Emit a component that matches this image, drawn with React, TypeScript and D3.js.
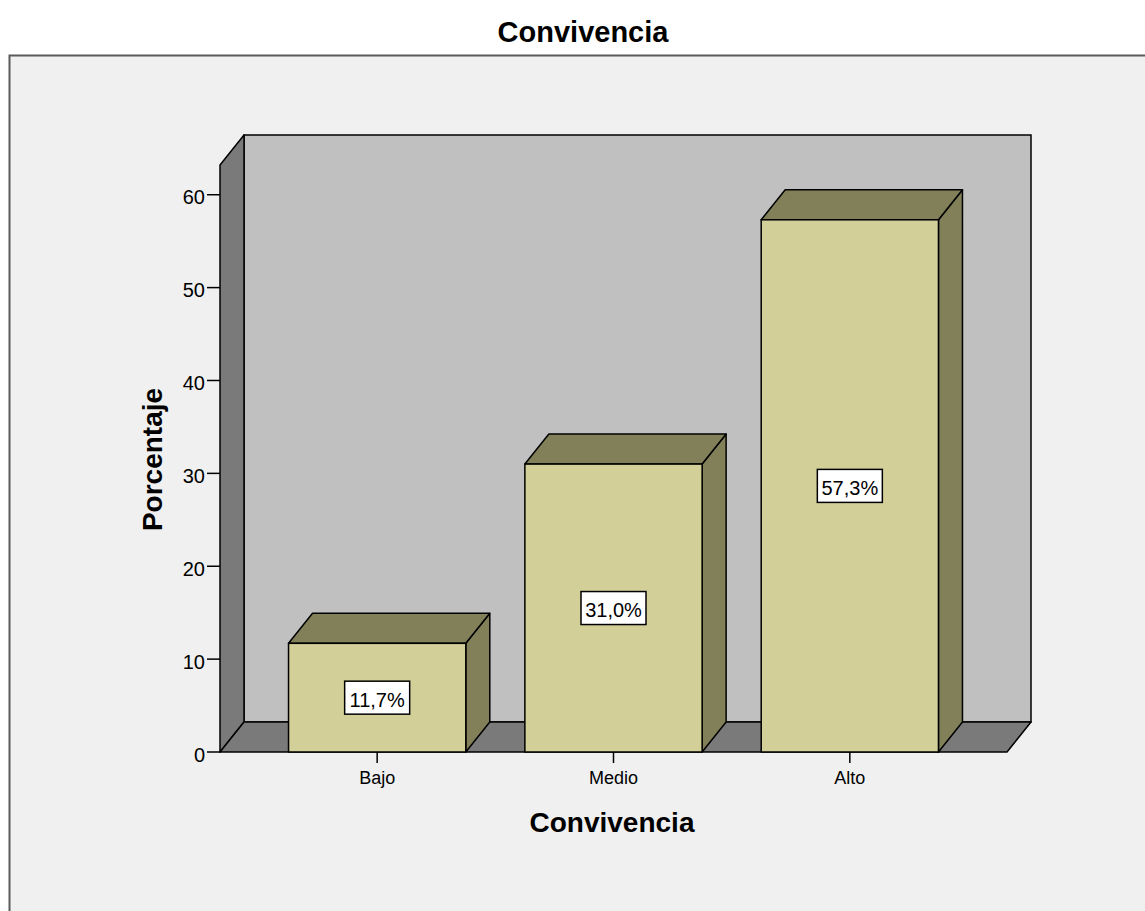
import { useEffect } from "react";
import * as d3 from "d3";

const categories = ["Bajo", "Medio", "Alto"];
const percents = [11.7, 31.0, 57.3];
const yTicks = [0, 10, 20, 30, 40, 50, 60];

const W = 1145;
const H = 911;
// plot frame (front plane)
const x0 = 220;
const x1 = 1007;
const yBottom = 752;
const yTop = 165;
const yDomainMax = 63.2;
// 3d depth offset
const DX = 24;
const DY = -30;

const FONT = "'Liberation Sans', Arial, sans-serif";

const pts = (p: [number, number][]) => p.map((d) => d.join(",")).join(" ");

export default function App() {
  useEffect(() => {
    document.body.style.margin = "0";
    document.body.style.background = "#ffffff";
  }, []);

  const x = d3.scaleBand<string>().domain(categories).range([x0, x1]).paddingInner(0.25).paddingOuter(0.29);
  const y = d3.scaleLinear().domain([0, yDomainMax]).range([yBottom, yTop]);
  const fmt = (v: number) => v.toFixed(1).replace(".", ",") + "%";

  return (
    <svg width={W} height={H} style={{ display: "block", fontFamily: FONT }}>
      <rect x={0} y={0} width={W} height={H} fill="#ffffff" />
      <text x={583} y={42} textAnchor="middle" fontSize={29} fontWeight="bold" fill="#000">
        Convivencia
      </text>
      {/* outer chart frame */}
      <rect x={9.5} y={55.5} width={W + 20} height={H} fill="#f0f0f0" stroke="#5a5a5a" strokeWidth={2} />

      {/* back wall */}
      <rect x={x0 + DX} y={yTop + DY} width={x1 - x0} height={yBottom - yTop} fill="#c0c0c0" stroke="#000" strokeWidth={1.5} />
      {/* left wall */}
      <polygon
        points={pts([[x0, yBottom], [x0, yTop], [x0 + DX, yTop + DY], [x0 + DX, yBottom + DY]])}
        fill="#7a7a7a"
        stroke="#000"
        strokeWidth={1.5}
        strokeLinejoin="round"
      />
      {/* floor */}
      <polygon
        points={pts([[x0, yBottom], [x1, yBottom], [x1 + DX, yBottom + DY], [x0 + DX, yBottom + DY]])}
        fill="#7a7a7a"
        stroke="#000"
        strokeWidth={1.5}
        strokeLinejoin="round"
      />

      {/* y axis ticks */}
      {yTicks.map((t) => (
        <g key={t}>
          <line x1={x0 - 13} x2={x0} y1={y(t)} y2={y(t)} stroke="#000" strokeWidth={1.5} />
          <text x={x0 - 15} y={y(t) + 9.5} textAnchor="end" fontSize={20} fill="#000">
            {t}
          </text>
        </g>
      ))}

      {/* bars */}
      {categories.map((c, i) => {
        const bx = x(c)!;
        const bw = x.bandwidth();
        const by = y(percents[i]);
        const cx = bx + bw / 2;
        const cy = (by + yBottom) / 2;
        return (
          <g key={c}>
            <polygon
              points={pts([[bx + bw, yBottom], [bx + bw, by], [bx + bw + DX, by + DY], [bx + bw + DX, yBottom + DY]])}
              fill="#828059"
              stroke="#000"
              strokeWidth={1.5}
              strokeLinejoin="round"
            />
            <polygon
              points={pts([[bx, by], [bx + bw, by], [bx + bw + DX, by + DY], [bx + DX, by + DY]])}
              fill="#828059"
              stroke="#000"
              strokeWidth={1.5}
              strokeLinejoin="round"
            />
            <rect x={bx} y={by} width={bw} height={yBottom - by} fill="#d3cf98" stroke="#000" strokeWidth={1.5} />
            <rect x={cx - 32.5} y={cy - 16.5} width={65} height={33} fill="#ffffff" stroke="#000" strokeWidth={1.5} />
            <text x={cx} y={cy + 9} textAnchor="middle" fontSize={20} fill="#000">
              {fmt(percents[i])}
            </text>
            <line x1={cx} x2={cx} y1={yBottom} y2={yBottom + 11} stroke="#000" strokeWidth={1.5} />
            <text x={cx} y={784} textAnchor="middle" fontSize={18} fill="#000">
              {c}
            </text>
          </g>
        );
      })}

      {/* axis titles */}
      <text x={612} y={832} textAnchor="middle" fontSize={28} fontWeight="bold" fill="#000">
        Convivencia
      </text>
      <text
        transform={`translate(162, 459.5) rotate(-90)`}
        textAnchor="middle"
        fontSize={28}
        fontWeight="bold"
        fill="#000"
      >
        Porcentaje
      </text>
    </svg>
  );
}
